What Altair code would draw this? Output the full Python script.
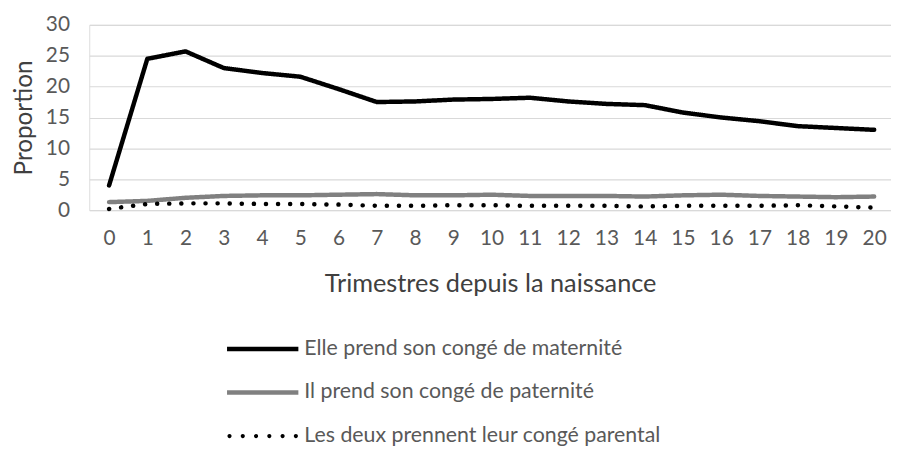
import altair as alt
import pandas as pd

quarters = list(range(21))
maternite = [4.0, 24.5, 25.7, 23.0, 22.2, 21.6, 19.6, 17.5, 17.6, 17.9, 18.0,
             18.2, 17.6, 17.2, 17.0, 15.8, 15.0, 14.4, 13.6, 13.3, 13.0]
paternite = [1.3, 1.5, 2.0, 2.3, 2.4, 2.4, 2.5, 2.6, 2.4, 2.4, 2.5,
             2.3, 2.3, 2.3, 2.2, 2.4, 2.5, 2.3, 2.2, 2.1, 2.2]
parental = [0.2, 1.0, 1.1, 1.1, 1.0, 1.0, 0.9, 0.7, 0.7, 0.8, 0.8,
            0.7, 0.7, 0.7, 0.6, 0.7, 0.7, 0.7, 0.8, 0.6, 0.4]
y_ticks = [0, 5, 10, 15, 20, 25, 30]

series_names = ["Elle prend son congé de maternité",
                "Il prend son congé de paternité",
                "Les deux prennent leur congé parental"]
series_colors = ["#000000", "#808080", "#000000"]
series_dash = [[1, 0], [1, 0], [0.1, 12.1]]


def _bar(h):
    return f"M-1,-{h}L1,-{h}L1,{h}L-1,{h}Z"


def _dots(r, centers):
    parts = []
    for c in centers:
        parts.append(f"M{c - r:.3f},0A{r},{r} 0 1,0 {c + r:.3f},0A{r},{r} 0 1,0 {c - r:.3f},0Z")
    return "".join(parts)


legend_shapes = [_bar(0.0625), _bar(0.0625),
                 _dots(0.058, [-0.93, -0.558, -0.186, 0.186, 0.558, 0.93])]

rows = []
for name, vals in zip(series_names, [maternite, paternite, parental]):
    for q, v in zip(quarters, vals):
        rows.append({"Trimestre": q, "Proportion": v, "Série": name})
df = pd.DataFrame(rows)

FONT = "Lato"
TXT = "#595959"

x_enc = alt.X("Trimestre:Q",
              scale=alt.Scale(domain=[-0.518, 20.44], nice=False, zero=False),
              axis=alt.Axis(values=quarters, format="d", grid=False, domain=False, ticks=False,
                            labelOverlap=False, labelFlush=False, labelPadding=18,
                            labelFont=FONT, labelFontSize=21, labelColor=TXT,
                            title="Trimestres depuis la naissance", titleFont=FONT,
                            titleFontSize=25.5, titleFontWeight="normal", titleColor="#404040",
                            titlePadding=23))
y_enc = alt.Y("Proportion:Q",
              scale=alt.Scale(domain=[0, 30], nice=False),
              axis=alt.Axis(values=y_ticks, grid=True, gridColor="#d9d9d9",
                            gridWidth=1.2, domain=False, ticks=False, labelPadding=20,
                            labelOverlap=False, labelFlush=False,
                            labelFont=FONT, labelFontSize=21, labelColor=TXT,
                            title="Proportion", titleFont=FONT, titleFontSize=24.5,
                            titleFontWeight="normal", titleColor="#404040", titlePadding=9))

lines = alt.Chart(df).mark_line(strokeWidth=4.5, strokeCap="round", strokeJoin="round").encode(
    x=x_enc,
    y=y_enc,
    stroke=alt.Stroke("Série:N", scale=alt.Scale(domain=series_names, range=series_colors),
                      legend=None),
    strokeDash=alt.StrokeDash("Série:N", scale=alt.Scale(domain=series_names, range=series_dash),
                              legend=None),
    order=alt.Order("Trimestre:Q"),
)

legend = alt.Legend(
    title=None, orient="none", legendX=139, legendY=317, direction="vertical",
    symbolSize=5184, symbolStrokeWidth=0, symbolOpacity=1,
    labelFont=FONT, labelFontSize=21.5, labelColor=TXT, labelOffset=6,
    clipHeight=20, rowPadding=22, labelLimit=700,
)

legend_layer = alt.Chart(df).transform_filter("datum.Trimestre < 0").mark_point(
    filled=True, opacity=1).encode(
    x=x_enc,
    y=y_enc,
    color=alt.Color("Série:N", scale=alt.Scale(domain=series_names, range=series_colors),
                    legend=legend),
    shape=alt.Shape("Série:N", scale=alt.Scale(domain=series_names, range=legend_shapes),
                    legend=legend),
)

chart = alt.layer(lines, legend_layer).resolve_scale(
    color="independent", shape="independent"
).properties(
    width=809, height=187,
    autosize=alt.AutoSizeParams(type="none"),
    padding={"left": 82, "top": 15, "right": 0, "bottom": 236},
).configure_view(stroke=None).configure(background="white")

chart.save("out.html", embed_options={"renderer": "svg", "actions": False})
